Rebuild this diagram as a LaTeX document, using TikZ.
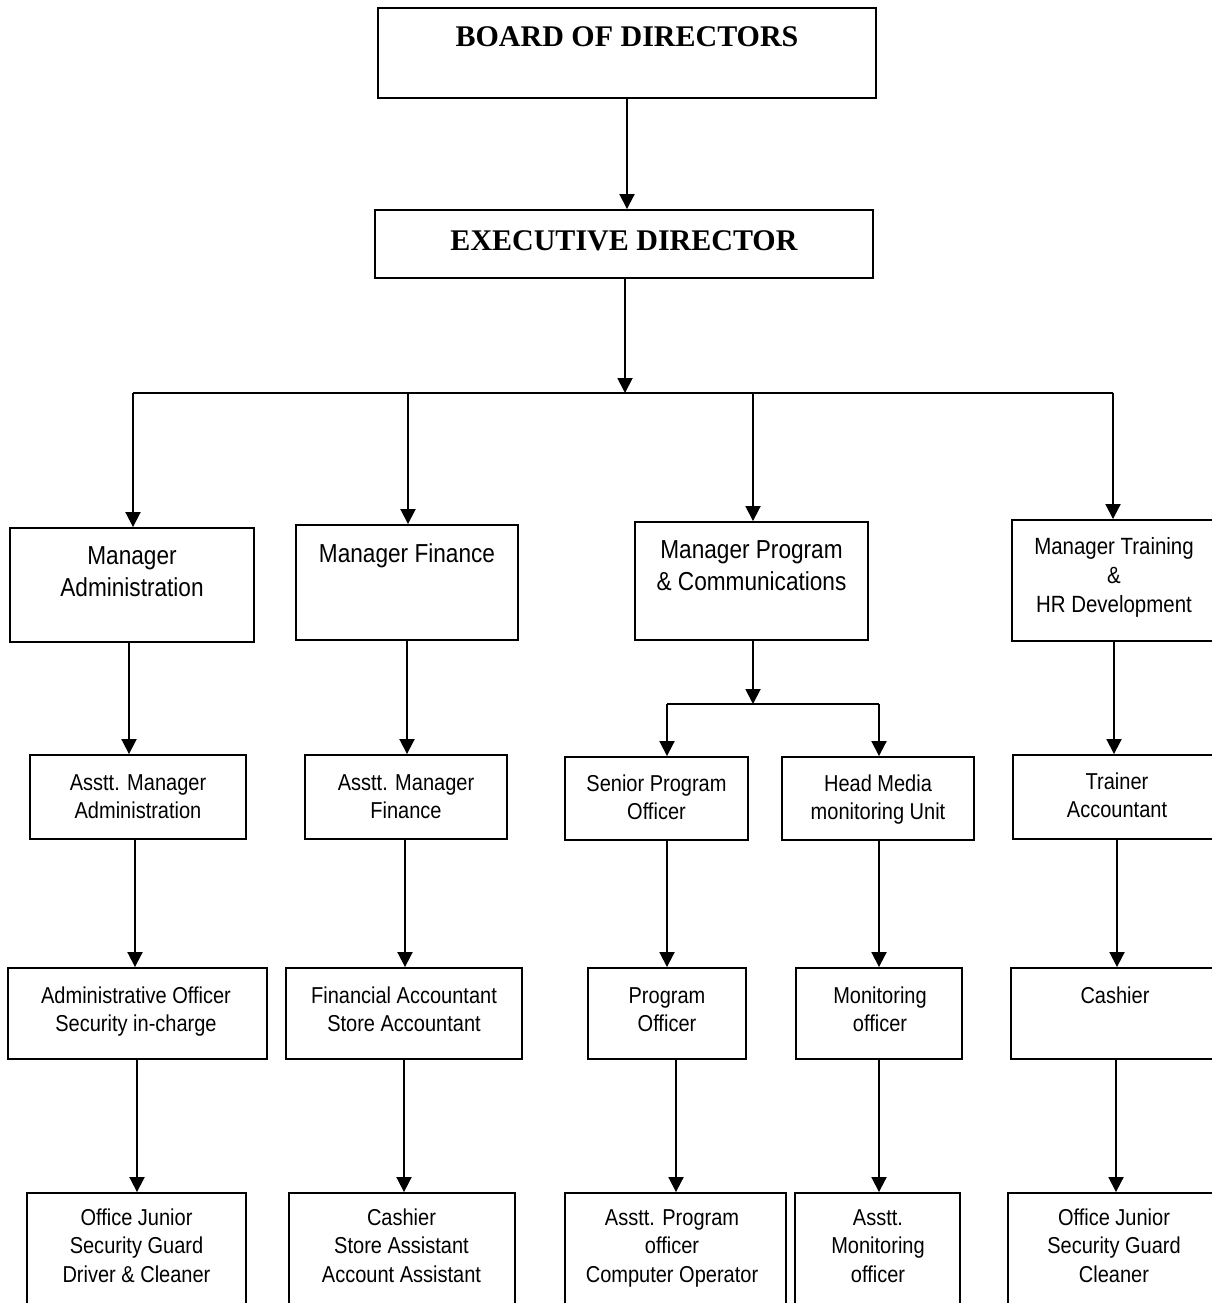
\documentclass[tikz,border=0pt]{standalone}
\usepackage{fontspec}
\setmainfont{Liberation Serif}
\newfontfamily\orgsans[FakeStretch=0.87]{Liberation Sans}
\usetikzlibrary{arrows.meta}
\begin{document}
\begin{tikzpicture}[x=1pt,y=-1pt,
  box/.style={draw, line width=1.9pt, inner sep=0pt, fill=none},
  arr/.style={line width=1.9pt, -{Triangle[length=15pt,width=15pt]}},
  ln/.style={line width=1.9pt},
  title/.style={inner sep=0pt, anchor=base, font=\bfseries\fontsize{30}{36}\selectfont},
  mgr/.style={inner sep=0pt, anchor=base, align=center, font=\orgsans\fontsize{26}{32}\selectfont},
  mgrs/.style={inner sep=0pt, anchor=base, align=center, font=\orgsans\fontsize{23.5}{29}\selectfont},
  low/.style={inner sep=0pt, anchor=base, align=center, font=\orgsans\fontsize{23}{28}\selectfont},
  bot/.style={inner sep=0pt, anchor=base, align=center, font=\orgsans\fontsize{23}{28.5}\selectfont}]
\useasboundingbox (0,0) rectangle (1212,1303);
\fill[white] (0,0) rectangle (1212,1303);
\clip (0,0) rectangle (1212,1303);

% top
\node[box, minimum width=498pt, minimum height=90pt] (bod) at (627,53) {};
\node[title] (bodt) at (627,47) {BOARD OF DIRECTORS};
\node[box, minimum width=498pt, minimum height=68pt] (ed) at (624,244) {};
\node[title] (edt) at (624,250) {EXECUTIVE DIRECTOR};

% managers (text anchored at baseline of last line)
\node[box, minimum width=244pt, minimum height=114pt] (ma) at (132,585) {};
\node[mgr] (mat) at (132,596) {Manager\\Administration};
\node[box, minimum width=222pt, minimum height=115pt] (mf) at (407,582.5) {};
\node[mgr] (mft) at (407,562) {Manager Finance};
\node[box, minimum width=233pt, minimum height=118pt] (mp) at (751.5,581) {};
\node[mgr] (mpt) at (751.5,590) {Manager Program\\\& Communications};
\node[box, minimum width=204pt, minimum height=121pt] (mt) at (1114,580.5) {};
\node[mgrs] (mtt) at (1114,612) {Manager Training\\\&\\HR Development};

% second row
\node[box, minimum width=216pt, minimum height=84pt] (aa) at (138,797) {};
\node[low] (aat) at (138,818) {Asstt. Manager\\Administration};
\node[box, minimum width=202pt, minimum height=84pt] (af) at (406,797) {};
\node[low] (aft) at (406,818) {Asstt. Manager\\Finance};
\node[box, minimum width=183pt, minimum height=83pt] (sp) at (656.5,798.5) {};
\node[low] (spt) at (656.5,819) {Senior Program\\Officer};
\node[box, minimum width=192pt, minimum height=83pt] (hm) at (878,798.5) {};
\node[low] (hmt) at (878,819) {Head Media\\monitoring Unit};
\node[box, minimum width=206pt, minimum height=84pt] (ta) at (1116,797) {};
\node[low] (tat) at (1117,817) {Trainer\\Accountant};

% third row
\node[box, minimum width=259pt, minimum height=91pt] (ao) at (137.5,1013.5) {};
\node[low] (aot) at (136,1031) {Administrative Officer\\Security in-charge};
\node[box, minimum width=236pt, minimum height=91pt] (fa) at (404,1013.5) {};
\node[low] (fat) at (404,1031) {Financial Accountant\\Store Accountant};
\node[box, minimum width=158pt, minimum height=91pt] (po) at (667,1013.5) {};
\node[low] (pot) at (667,1031) {Program\\Officer};
\node[box, minimum width=166pt, minimum height=91pt] (mo) at (879,1013.5) {};
\node[low] (mot) at (880,1031) {Monitoring\\officer};
\node[box, minimum width=208pt, minimum height=91pt] (ca) at (1115,1013.5) {};
\node[low] (cat) at (1115,1003) {Cashier};

% bottom row
\node[box, minimum width=219pt, minimum height=127pt] (oj) at (136.5,1256.5) {};
\node[bot] (ojt) at (136.5,1282) {Office Junior\\Security Guard\\Driver \& Cleaner};
\node[box, minimum width=226pt, minimum height=127pt] (cs) at (402,1256.5) {};
\node[bot] (cst) at (401.5,1282) {Cashier\\Store Assistant\\Account Assistant};
\node[box, minimum width=221pt, minimum height=127pt] (ap) at (675.5,1256.5) {};
\node[bot] (apt) at (672,1282) {Asstt. Program\\officer\\Computer Operator};
\node[box, minimum width=165pt, minimum height=127pt] (am) at (877.5,1256.5) {};
\node[bot] (amt) at (878,1282) {Asstt.\\Monitoring\\officer};
\node[box, minimum width=212pt, minimum height=127pt] (oj2) at (1114,1256.5) {};
\node[bot] (oj2t) at (1114,1282) {Office Junior\\Security Guard\\Cleaner};

% connectors top
\draw[arr] (bod.south) -- (bod.south |- ed.north);
\coordinate (bus) at (625,393);
\coordinate (busL) at (133,393);
\coordinate (busR) at (1112,393);
\draw[arr] ([xshift=1pt]ed.south) -- ([xshift=1pt]ed.south |- bus);
\draw[ln] (busL) -- (busR);
\draw[arr] ([xshift=1pt]ma.north |- bus) -- ([xshift=1pt]ma.north);
\draw[arr] ([xshift=1pt]mf.north |- bus) -- ([xshift=1pt]mf.north);
\draw[arr] ([xshift=1.5pt]mp.north |- bus) -- ([xshift=1.5pt]mp.north);
\draw[ln] (busR) -- ([xshift=-1pt]mt.north |- busR);
\draw[arr] ([xshift=-1pt]mt.north |- bus) -- ([xshift=-1pt]mt.north);

% admin column
\draw[arr] ([xshift=-3pt]ma.south) -- ([xshift=-3pt]ma.south |- aa.north);
\draw[arr] ([xshift=-3pt]aa.south) -- ([xshift=-3pt]aa.south |- ao.north);
\draw[arr] ([xshift=-0.5pt]ao.south) -- ([xshift=-0.5pt]ao.south |- oj.north);

% finance column
\draw[arr] (mf.south) -- (mf.south |- af.north);
\draw[arr] ([xshift=-1pt]af.south) -- ([xshift=-1pt]af.south |- fa.north);
\draw[arr] (fa.south) -- (fa.south |- cs.north);

% program column
\coordinate (pbus) at (753,704);
\draw[arr] ([xshift=1.5pt]mp.south) -- ([xshift=1.5pt]mp.south |- pbus);
\draw[ln] ([xshift=10.5pt]sp.north |- pbus) -- ([xshift=1pt]hm.north |- pbus);
\draw[arr] ([xshift=10.5pt]sp.north |- pbus) -- ([xshift=10.5pt]sp.north);
\draw[arr] ([xshift=1pt]hm.north |- pbus) -- ([xshift=1pt]hm.north);
\draw[arr] ([xshift=10.5pt]sp.south) -- ([xshift=10.5pt]sp.south |- po.north);
\draw[arr] ([xshift=9pt]po.south) -- ([xshift=9pt]po.south |- ap.north);
\draw[arr] ([xshift=1pt]hm.south) -- ([xshift=1pt]hm.south |- mo.north);
\draw[arr] (mo.south) -- (mo.south |- am.north);

% training column
\draw[arr] (mt.south) -- (mt.south |- ta.north);
\draw[arr] ([xshift=1pt]ta.south) -- ([xshift=1pt]ta.south |- ca.north);
\draw[arr] ([xshift=1pt]ca.south) -- ([xshift=1pt]ca.south |- oj2.north);
\end{tikzpicture}
\end{document}
